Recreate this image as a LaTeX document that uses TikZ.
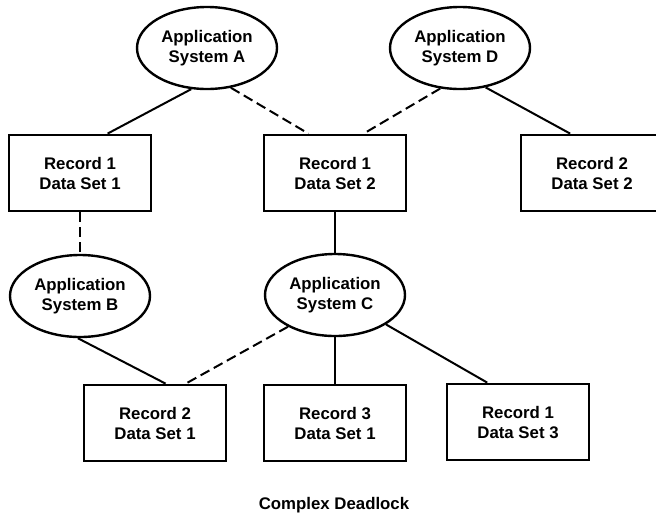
\documentclass[tikz,border=0pt]{standalone}
\usepackage{fontspec}
\setmainfont{Liberation Sans}
\usetikzlibrary{shapes.geometric}

\begin{document}
\begin{tikzpicture}[x=0.5pt, y=-0.5pt,
    every node/.style={font=\bfseries\fontsize{8.4}{10}\selectfont, align=center},
    appsys/.style={draw, ellipse, line width=1.2pt, minimum width=70pt, minimum height=41pt, inner sep=0pt},
    record/.style={draw, rectangle, line width=1.4pt, minimum width=71pt, minimum height=38pt, inner sep=0pt},
    held/.style={line width=1pt},
    waits/.style={line width=1pt, dash pattern=on 5pt off 2.5pt}]
    \useasboundingbox (0,0) rectangle (656,520);

    % Application systems
    \node[appsys] (appA) at (207,48) {Application\\System A};
    \node[appsys] (appD) at (460,48) {Application\\System D};
    \node[appsys] (appB) at (80,296) {Application\\System B};
    \node[appsys] (appC) at (335,295) {Application\\System C};

    % Records in data sets
    \node[record] (r11) at (80,173) {Record 1\\Data Set 1};
    \node[record] (r12) at (335,173) {Record 1\\Data Set 2};
    \node[record] (r22) at (592,173) {Record 2\\Data Set 2};
    \node[record] (r21) at (155,423) {Record 2\\Data Set 1};
    \node[record] (r31) at (335,423) {Record 3\\Data Set 1};
    \node[record] (r13) at (518,422) {Record 1\\Data Set 3};

    % Held records (solid) and waiting requests (dashed)
    \draw[held] (appA.-111) -- (r11.55);
    \draw[waits] (appA.-59) -- (r12.124);
    \draw[waits] (appD.-116) -- (r12.54);
    \draw[held] (appD.-57) -- (r22.119);
    \draw[waits] (r11.south) -- (appB.north);
    \draw[held] (r12.south) -- (appC.north);
    \draw[held] (appB.-93) -- (r21.75);
    \draw[waits] (appC.214) -- (r21.52);
    \draw[held] (appC.south) -- (r31.north);
    \draw[held] (appC.-30) -- (r13.128);

    \node (title) at (334,505) {Complex Deadlock};
\end{tikzpicture}
\end{document}
